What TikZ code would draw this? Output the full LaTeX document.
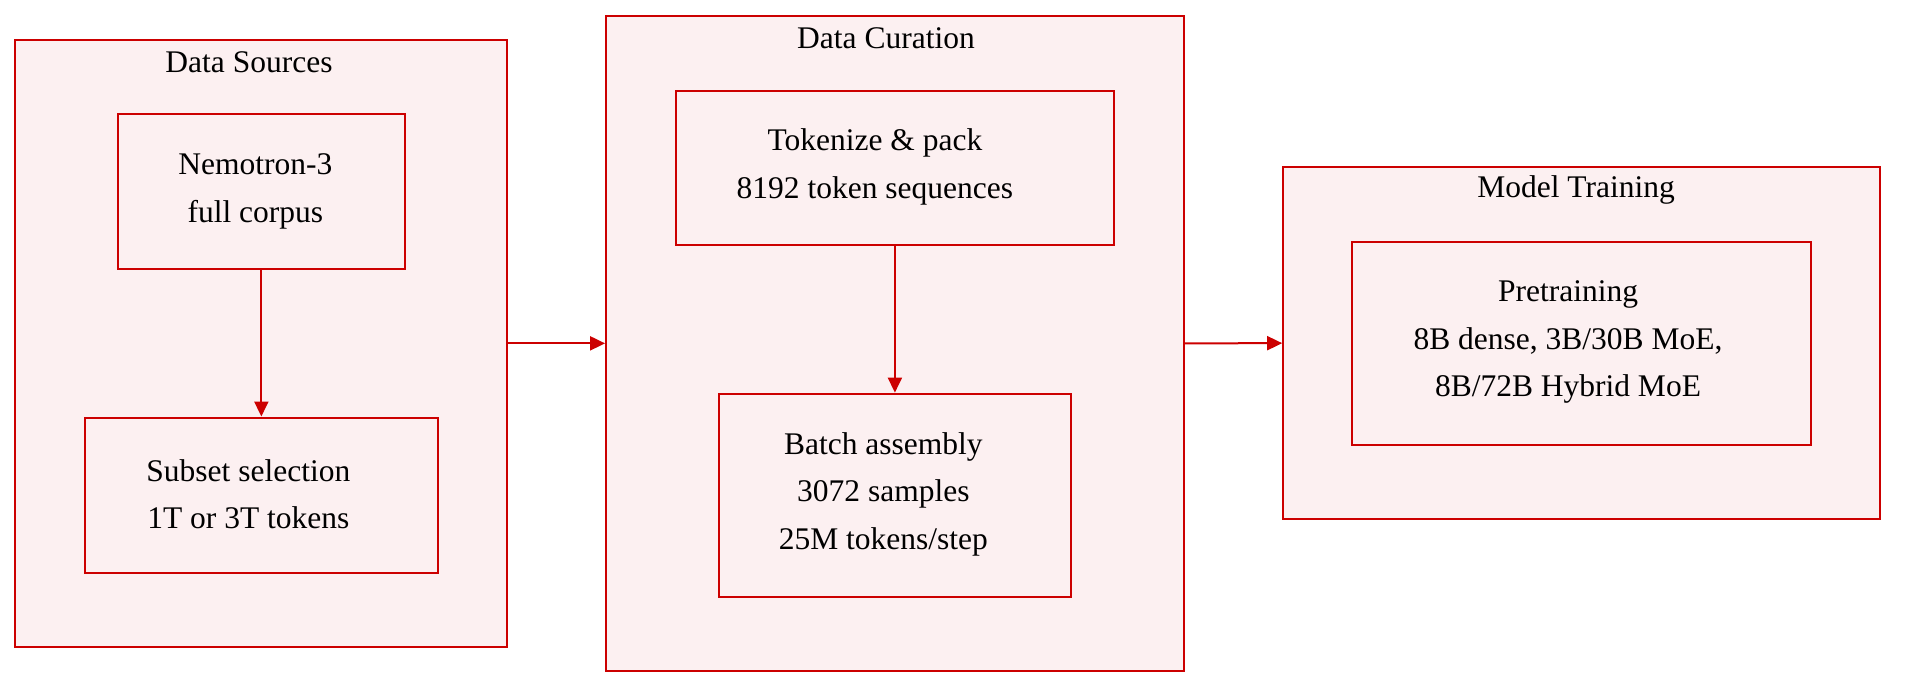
\documentclass[tikz,border=0pt]{standalone}
\usepackage{fontspec}
\setmainfont{Liberation Serif}
\usetikzlibrary{arrows.meta}
\definecolor{edgered}{RGB}{204,0,0}
\definecolor{boxfill}{RGB}{252,240,241}
\begin{document}
\begin{tikzpicture}[x=0.5pt,y=-0.5pt,
  every node/.style={font=\fontsize{15.75}{23.75}\selectfont},
  panel/.style={draw=edgered,fill=boxfill,line width=1pt,inner sep=0pt},
  stepbox/.style={draw=edgered,fill=boxfill,line width=1pt,inner sep=0pt},
  txt/.style={inner sep=0pt,align=center,anchor=center},
  title/.style={inner sep=0pt,anchor=center},
  arr/.style={draw=edgered,line width=1pt,-{Triangle[length=7.5pt,width=7pt]}}]
\useasboundingbox (0,0) rectangle (1912,692);
% panels
\node[panel,minimum width=245.95pt,minimum height=303.65pt] (src) at (261.35,343.35) {};
\node[panel,minimum width=288.8pt,minimum height=327.45pt] (cur) at (894.9,343.35) {};
\node[panel,minimum width=298.4pt,minimum height=175.85pt] (trn) at (1581.6,343.15) {};
% titles
\node[title] (tsrc) at (249,62) {Data Sources};
\node[title] (tcur) at (886,38.5) {Data Curation};
\node[title] (ttrn) at (1576,189.5) {Model Training};
% steps
\node[stepbox,minimum width=143.55pt,minimum height=77.45pt] (nem) at (261.35,191.35) {};
\node[stepbox,minimum width=176.35pt,minimum height=77.65pt] (sub) at (261.35,495.15) {};
\node[stepbox,minimum width=219.4pt,minimum height=77.2pt] (tok) at (894.9,167.7) {};
\node[stepbox,minimum width=176pt,minimum height=101.5pt] (bat) at (894.9,495.1) {};
\node[stepbox,minimum width=229.4pt,minimum height=101.35pt] (pre) at (1581.6,343.35) {};
\node[txt] (nemt) at (255.35,191.35) {Nemotron-3\\full corpus};
\node[txt] (subt) at (248.35,494.15) {Subset selection\\1T or 3T tokens};
\node[txt] (tokt) at (874.9,166.7) {Tokenize \& pack\\8192 token sequences};
\node[txt] (batt) at (883.4,494.1) {Batch assembly\\3072 samples\\25M tokens/step};
\node[txt] (pret) at (1568,342.35) {Pretraining\\8B dense, 3B/30B MoE,\\8B/72B Hybrid MoE};
% connectors
\draw[arr] (nem.south) -- (sub.north);
\draw[arr] (tok.south) -- (bat.north);
\draw[arr] (src.east) -- (cur.west);
\draw[arr] (cur.east) -- (trn.west);
\end{tikzpicture}
\end{document}
